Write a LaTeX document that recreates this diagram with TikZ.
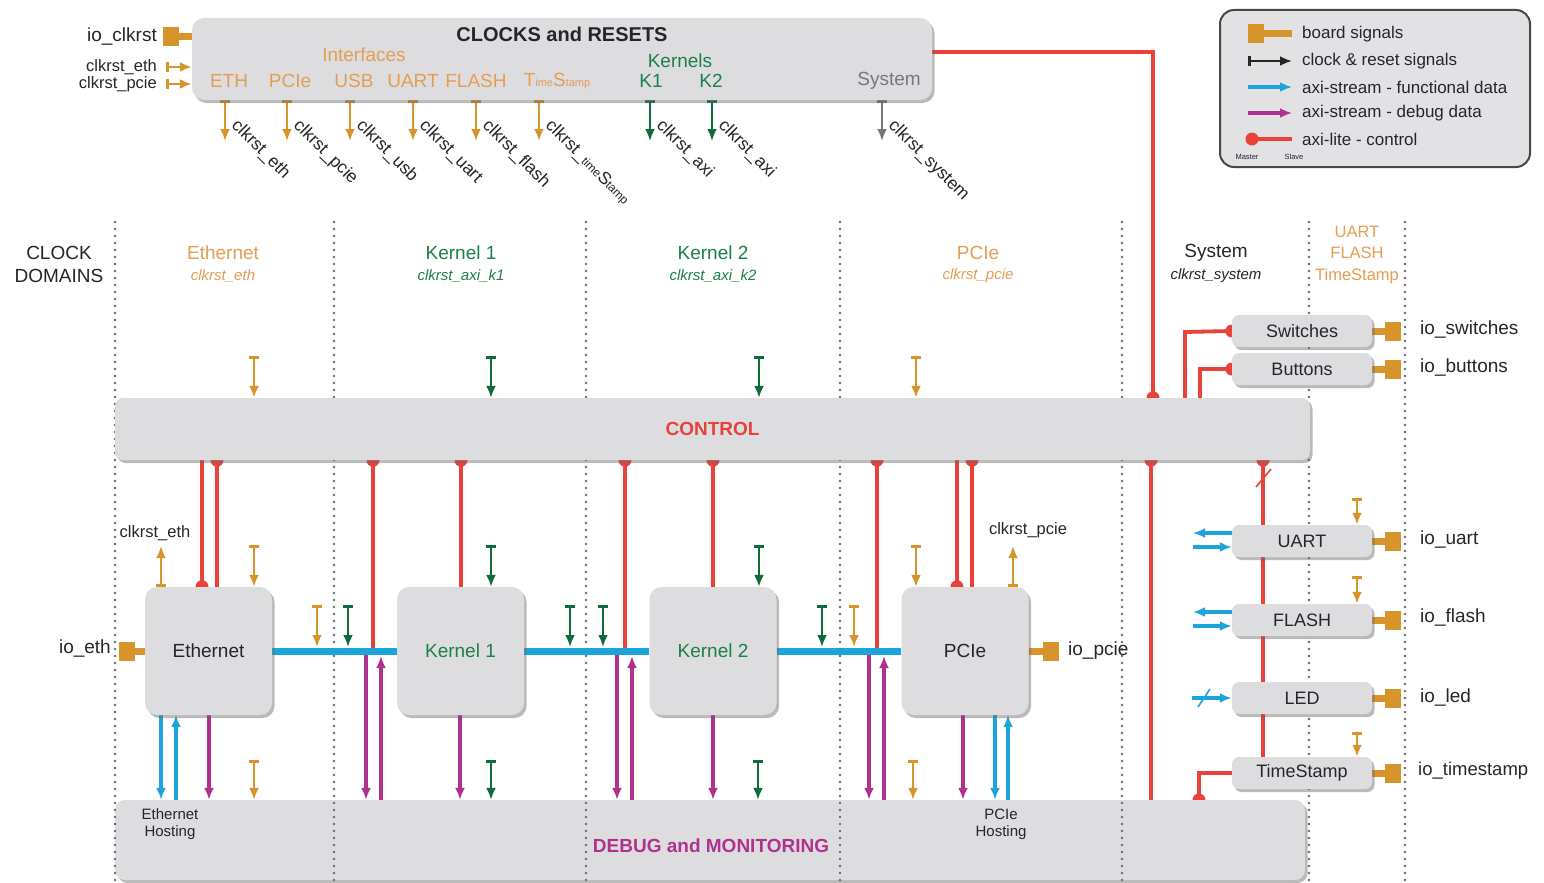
\documentclass[tikz,border=0pt]{standalone}
\usepackage{fontspec}
\setmainfont{Liberation Sans}
\usetikzlibrary{arrows.meta,shadows}
\pgfdeclarelayer{bottom}
\pgfdeclarelayer{dots}
\pgfdeclarelayer{lines}
\pgfsetlayers{bottom,dots,lines,main}
\definecolor{boxgray}{RGB}{221,221,224}
\definecolor{legbg}{RGB}{226,226,229}
\definecolor{leggr}{RGB}{70,70,75}
\definecolor{ora}{RGB}{214,148,42}
\definecolor{oratext}{RGB}{228,158,84}
\definecolor{grn}{RGB}{14,108,58}
\definecolor{grntext}{RGB}{28,128,72}
\definecolor{rd}{RGB}{232,66,58}
\definecolor{cy}{RGB}{28,164,220}
\definecolor{mg}{RGB}{176,50,140}
\definecolor{dotc}{RGB}{105,105,115}
\definecolor{txt}{RGB}{38,38,42}
\definecolor{sysgray}{RGB}{120,120,124}
\newcommand\fsz[2]{\fontsize{#1}{#2}\selectfont}
\newcommand\blob[1]{\fill[rd] #1 circle (6.5pt);}
\begin{document}
\begin{tikzpicture}[x=1pt,y=-1pt,
 every node/.style={text=txt,inner sep=0pt},
 box/.style={fill=boxgray,rounded corners=12pt,drop shadow={shadow xshift=2.5pt,shadow yshift=-3pt,opacity=.45,fill=black!60},font=\fsz{19}{22}},
 mbox/.style={box,minimum width=127pt,minimum height=128pt},
 sbox/.style={box,rounded corners=7pt,minimum width=140pt,minimum height=32pt,font=\fsz{18}{20}},
 lbl/.style={font=\fsz{19}{22}},
 otxt/.style={text=oratext,font=\fsz{19}{22}},
 gtxt/.style={text=grntext,font=\fsz{19}{22}},
 oit/.style={text=oratext,font=\itshape\fsz{15}{17}},
 git/.style={text=grntext,font=\itshape\fsz{15}{17}},
 rot/.style={rotate=-45,anchor=west,font=\fsz{17.5}{19}},
 ltxt/.style={anchor=west,font=\fsz{17}{19}},
 dom/.style={draw=dotc,line width=2.8pt,dash pattern=on 0pt off 7pt,line cap=round},
 clkO/.style={draw=ora,line width=2.8pt,{Bar[width=10pt]}-{Latex[length=12pt,width=10pt]}},
 clkG/.style={clkO,draw=grn},
 clkK/.style={clkO,draw=sysgray},
 ctl/.style={draw=rd,line width=3.8pt},
 fdata/.style={draw=cy,line width=3.2pt,-{Latex[length=12pt,width=10pt]}},
 ddata/.style={draw=mg,line width=3.2pt,-{Latex[length=12pt,width=10pt]}},
 bus/.style={draw=cy,line width=7pt},
 brd/.style={draw=ora,line width=7pt},
 pad/.style={fill=ora,minimum width=16pt,minimum height=19pt},
]
\useasboundingbox (0,0) rectangle (1544,883);

% ---------- bottom layer: background and debug box
\begin{pgfonlayer}{bottom}
\fill[white] (0,0) rectangle (1544,883);
\coordinate (tsd) at (1199,800);
\blob{(tsd)}
\node[box,rounded corners=10pt,minimum width=1190pt,minimum height=80pt] (dbg) at (710,840) {};
\end{pgfonlayer}

% ---------- clock-domain separators
\begin{pgfonlayer}{dots}
\foreach \x in {115,334,586,840,1122,1309,1405}{
  \coordinate (dt\x) at (\x,222);
  \coordinate (db\x) at (\x,883);
  \draw[dom] (dt\x) -- (db\x);
}
\end{pgfonlayer}

% ---------- CLOCKS and RESETS
\node[box,minimum width=740pt,minimum height=82pt] (clk) at (562,59) {};
\node[font=\bfseries\fsz{20}{22}] (clkt) at (562,34) {CLOCKS and RESETS};
\node[otxt] (ifc) at (364,55) {Interfaces};
\node[otxt] (iEth) at (229,81) {ETH};
\node[otxt] (iPcie) at (290,81) {PCIe};
\node[otxt] (iUsb) at (354,81) {USB};
\node[otxt] (iUart) at (413,81) {UART};
\node[otxt] (iFlash) at (476,81) {FLASH};
\node[otxt] (iTs) at (557,81) {T{\fsz{11}{12}ime}S{\fsz{11}{12}tamp}};
\node[gtxt] (kern) at (680,61) {Kernels};
\node[gtxt] (iK1) at (651,81) {K1};
\node[gtxt] (iK2) at (711,81) {K2};
\node[lbl,text=sysgray] (iSys) at (889,81) {System};

\node[lbl,anchor=east] (ioclk) at (157,37) {io\_clkrst};
\node[lbl,anchor=east,font=\fsz{16.5}{18}] (inEth) at (157,67) {clkrst\_eth};
\node[lbl,anchor=east,font=\fsz{16.5}{18}] (inPcie) at (157,84) {clkrst\_pcie};

% rotated labels of the clock outputs
\node[rot] (lEth) at (234,123) {clkrst\_eth};
\node[rot] (lPcie) at (296,123) {clkrst\_pcie};
\node[rot] (lUsb) at (359,123) {clkrst\_usb};
\node[rot] (lUart) at (422,123) {clkrst\_uart};
\node[rot] (lFlash) at (485,123) {clkrst\_flash};
\node[rot] (lTs) at (548,123) {clkrst\_{\fsz{12}{13}time}S{\fsz{12}{13}tamp}};
\node[rot] (lK1) at (659,123) {clkrst\_axi};
\node[rot] (lK2) at (721,123) {clkrst\_axi};
\node[rot] (lSys) at (891,123) {clkrst\_system};

% ---------- legend
\node[fill=legbg,draw=leggr,line width=2pt,rounded corners=14pt,minimum width=310pt,minimum height=157pt] (leg) at (1375,88.5) {};
\coordinate (lg1a) at (1256,34); \coordinate (lg1b) at (1292,34);
\draw[brd] (lg1a) -- (lg1b); \node[pad] at (lg1a) {};
\node[ltxt] (lt1) at (1302,34) {board signals};
\coordinate (lg2a) at (1248,61); \coordinate (lg2b) at (1292,61);
\draw[clkO,draw=black!85] (lg2a) -- (lg2b);
\node[ltxt] (lt2) at (1302,61) {clock \& reset signals};
\coordinate (lg3a) at (1248,87); \coordinate (lg3b) at (1292,87);
\draw[fdata] (lg3a) -- (lg3b);
\node[ltxt] (lt3) at (1302,87) {axi-stream - functional data};
\coordinate (lg4a) at (1248,113); \coordinate (lg4b) at (1292,113);
\draw[ddata] (lg4a) -- (lg4b);
\node[ltxt] (lt4) at (1302,113) {axi-stream - debug data};
\coordinate (lg5a) at (1252,139); \coordinate (lg5b) at (1292,139);
\draw[ctl] (lg5a) -- (lg5b); \blob{(lg5a)}
\node[ltxt] (lt5) at (1302,139) {axi-lite - control};
\node[font=\fsz{7.5}{8}] (lm) at (1247,157) {Master};
\node[font=\fsz{7.5}{8}] (ls) at (1294,157) {Slave};

% ---------- clock domain headers
\node[lbl,align=center,font=\fsz{19}{23}] (cd) at (59,264) {CLOCK\\DOMAINS};
\node[otxt] (hEth) at (223,253) {Ethernet};
\node[oit] (hEth2) at (223,276) {clkrst\_eth};
\node[gtxt] (hK1) at (461,253) {Kernel 1};
\node[git] (hK12) at (461,276) {clkrst\_axi\_k1};
\node[gtxt] (hK2) at (713,253) {Kernel 2};
\node[git] (hK22) at (713,276) {clkrst\_axi\_k2};
\node[otxt] (hP) at (978,253) {PCIe};
\node[oit] (hP2) at (978,276) {clkrst\_pcie};
\node[lbl] (hS) at (1216,253) {System};
\node[lbl,font=\itshape\fsz{15}{17}] (hS2) at (1216,276) {clkrst\_system};
\node[otxt,align=center,font=\fsz{16.5}{21.5}] (hU) at (1357,255) {UART\\FLASH\\TimeStamp};

% ---------- CONTROL and modules
\node[box,rounded corners=8pt,minimum width=1195pt,minimum height=62pt,text=rd,font=\bfseries\fsz{19}{22}] (ctrl) at (712.5,429) {CONTROL};
\node[mbox] (eth) at (208.5,651) {Ethernet};
\node[mbox,text=grntext] (k1) at (460.5,651) {Kernel 1};
\node[mbox,text=grntext] (k2) at (713,651) {Kernel 2};
\node[mbox] (pcie) at (965,651) {PCIe};

\node[sbox] (sw) at (1302,331) {Switches};
\node[sbox] (bt) at (1302,369) {Buttons};
\node[sbox] (uart) at (1302,541) {UART};
\node[sbox] (flash) at (1302,620) {FLASH};
\node[sbox] (led) at (1302,698) {LED};
\node[sbox] (ts) at (1302,773) {TimeStamp};

\node[lbl,anchor=west] (iosw) at (1420,330) {io\_switches};
\node[lbl,anchor=west] (iobt) at (1420,367) {io\_buttons};
\node[lbl,anchor=west] (iouart) at (1420,539) {io\_uart};
\node[lbl,anchor=west] (ioflash) at (1420,617) {io\_flash};
\node[lbl,anchor=west] (ioled) at (1420,697) {io\_led};
\node[lbl,anchor=west,font=\fsz{18.5}{21}] (iots) at (1418,771) {io\_timestamp};
\node[lbl,anchor=east] (ioeth) at (111,648) {io\_eth};
\node[lbl,anchor=west] (iopcie) at (1068,651) {io\_pcie};
\node[lbl,font=\fsz{16.5}{18}] (ceth) at (155,533) {clkrst\_eth};
\node[lbl,font=\fsz{16.5}{18}] (cpcie) at (1028,530) {clkrst\_pcie};

% debug texts
\node[align=center,font=\fsz{15}{17}] (ethh) at (170,824) {Ethernet\\Hosting};
\node[align=center,font=\fsz{15}{17}] (pcieh) at (1001,824) {PCIe\\Hosting};
\node[text=mg,font=\bfseries\fsz{19}{22}] (dbgt) at (711,846) {DEBUG and MONITORING};

% ---------- connectors
\begin{pgfonlayer}{lines}
% board pads
\coordinate (pclk) at (171,37);
\draw[brd] (pclk) -- (clk.west |- pclk); \node[pad] at (pclk) {};
\coordinate (peth) at (127,651);
\draw[brd] (peth) -- (eth.west); \node[pad] at (peth) {};
\coordinate (ppcie) at (1051,651);
\draw[brd] (pcie.east) -- (ppcie); \node[pad] at (ppcie) {};
\foreach \b in {sw,bt,uart,flash,led,ts}{
  \coordinate (p\b) at ([xshift=21pt]\b.east);
  \draw[brd] (\b.east) -- (p\b); \node[pad] at (p\b) {};
}
% clock inputs of the clock box
\coordinate (ie) at (166,67); \coordinate (ip) at (166,84);
\draw[clkO] (ie) -- (clk.west |- ie);
\draw[clkO] (ip) -- (clk.west |- ip);
% clock outputs
\foreach \x/\s in {225/clkO,287/clkO,350/clkO,413/clkO,476/clkO,539/clkO,650/clkG,712/clkG,882/clkK}{
  \coordinate (co\x) at (\x,141);
  \draw[\s] (clk.south -| co\x) -- (co\x);
}
% clocks into CONTROL
\foreach \x/\s in {254/clkO,491/clkG,759/clkG,916/clkO}{
  \coordinate (cc\x) at (\x,356);
  \draw[\s] (cc\x) -- (ctrl.north -| cc\x);
}
% clocks into modules (top)
\coordinate (a254) at (254,545); \draw[clkO] (a254) -- (eth.north -| a254);
\coordinate (a491) at (491,545); \draw[clkG] (a491) -- (k1.north -| a491);
\coordinate (a759) at (759,545); \draw[clkG] (a759) -- (k2.north -| a759);
\coordinate (a916) at (916,545); \draw[clkO] (a916) -- (pcie.north -| a916);
% generated clocks (up)
\coordinate (u161) at (161,546); \draw[clkO] (eth.north -| u161) -- (u161);
\coordinate (u1013) at (1013,546); \draw[clkO] (pcie.north -| u1013) -- (u1013);
% clocks to the buses
\foreach \x/\s in {317/clkO,348/clkG,570/clkG,603/clkG,822/clkG,854/clkO}{
  \coordinate (bt\x) at (\x,605);
  \coordinate (be\x) at (\x,647);
  \draw[\s] (bt\x) -- (be\x);
}
% clocks into DEBUG
\foreach \x/\s in {254/clkO,491/clkG,758/clkG,913/clkO}{
  \coordinate (dd\x) at (\x,760);
  \draw[\s] (dd\x) -- (dbg.north -| dd\x);
}
% clocks of the right-hand peripherals
\coordinate (r1) at (1357,498); \draw[clkO] (r1) -- (uart.north -| r1);
\coordinate (r2) at (1357,576); \draw[clkO] (r2) -- (flash.north -| r2);
\coordinate (r3) at (1357,732); \draw[clkO] (r3) -- (ts.north -| r3);

% axi-lite control
\coordinate (rs) at (1153,52);
\draw[ctl] (clk.east |- rs) -- (rs) -- (ctrl.north -| rs); \blob{(ctrl.north -| rs)}
\coordinate (rsw) at (1185,332);
\draw[ctl] (ctrl.north -| rsw) -- (rsw) -- (sw.west); \blob{(sw.west)}
\coordinate (rbt) at (1200,369);
\draw[ctl] (ctrl.north -| rbt) -- (rbt) -- (bt.west); \blob{(bt.west)}
\foreach \x in {202,217,373,461,625,713,877,957,972,1151,1263}{\coordinate (x\x) at (\x,0);}
\draw[ctl] (ctrl.south -| x202) -- (eth.north -| x202); \blob{(eth.north -| x202)}
\draw[ctl] (ctrl.south -| x217) -- (eth.north -| x217); \blob{(ctrl.south -| x217)}
\draw[ctl] (ctrl.south -| x373) -- (x373 |- k1.west); \blob{(ctrl.south -| x373)}
\draw[ctl] (ctrl.south -| x461) -- (k1.north -| x461); \blob{(ctrl.south -| x461)}
\draw[ctl] (ctrl.south -| x625) -- (x625 |- k2.west); \blob{(ctrl.south -| x625)}
\draw[ctl] (ctrl.south -| x713) -- (k2.north -| x713); \blob{(ctrl.south -| x713)}
\draw[ctl] (ctrl.south -| x877) -- (x877 |- pcie.west); \blob{(ctrl.south -| x877)}
\draw[ctl] (ctrl.south -| x957) -- (pcie.north -| x957); \blob{(pcie.north -| x957)}
\draw[ctl] (ctrl.south -| x972) -- (pcie.north -| x972); \blob{(ctrl.south -| x972)}
\draw[ctl] (ctrl.south -| x1151) -- (dbg.north -| x1151); \blob{(ctrl.south -| x1151)}
\draw[ctl] (ctrl.south -| x1263) -- (ts.north -| x1263); \blob{(ctrl.south -| x1263)}
\coordinate (sl1) at (1256,487); \coordinate (sl2) at (1271,469);
\draw[rd,line width=1.6pt] (sl1) -- (sl2);
\draw[ctl] (ts.west) -- (tsd |- ts.west) -- (tsd);

% axi-stream functional data
\draw[bus] (eth.east) -- (k1.west);
\draw[bus] (k1.east) -- (k2.west);
\draw[bus] (k2.east) -- (pcie.west);
\coordinate (f161) at (161,0); \coordinate (f176) at (176,0);
\draw[fdata] (eth.south -| f161) -- (dbg.north -| f161);
\draw[fdata] (dbg.north -| f176) -- (eth.south -| f176);
\coordinate (f995) at (995,0); \coordinate (f1008) at (1008,0);
\draw[fdata] (pcie.south -| f995) -- (dbg.north -| f995);
\draw[fdata] (dbg.north -| f1008) -- (pcie.south -| f1008);
\foreach \b/\ya/\yb in {uart/533/547,flash/612/626}{
  \coordinate (\b L) at (1193,\ya); \coordinate (\b R) at (1193,\yb);
  \draw[fdata] (\b.west |- \b L) -- (\b L);
  \draw[fdata] (\b R) -- (\b.west |- \b R);
}
\coordinate (ledL) at (1192,698);
\draw[fdata] (ledL) -- (led.west);
\coordinate (ls1) at (1198,707); \coordinate (ls2) at (1210,689);
\draw[cy,line width=1.6pt] (ls1) -- (ls2);

% axi-stream debug data
\coordinate (m209) at (209,0); \draw[ddata] (eth.south -| m209) -- (dbg.north -| m209);
\coordinate (m460) at (460,0); \draw[ddata] (k1.south -| m460) -- (dbg.north -| m460);
\coordinate (m713) at (713,0); \draw[ddata] (k2.south -| m713) -- (dbg.north -| m713);
\coordinate (m963) at (963,0); \draw[ddata] (pcie.south -| m963) -- (dbg.north -| m963);
\foreach \x/\y in {366/381,617/632,869/884}{
  \coordinate (md\x) at (\x,655); \coordinate (mu\y) at (\y,656);
  \draw[ddata] (md\x) -- (dbg.north -| md\x);
  \draw[ddata] (dbg.north -| mu\y) -- (mu\y);
}
\end{pgfonlayer}
\end{tikzpicture}
\end{document}
